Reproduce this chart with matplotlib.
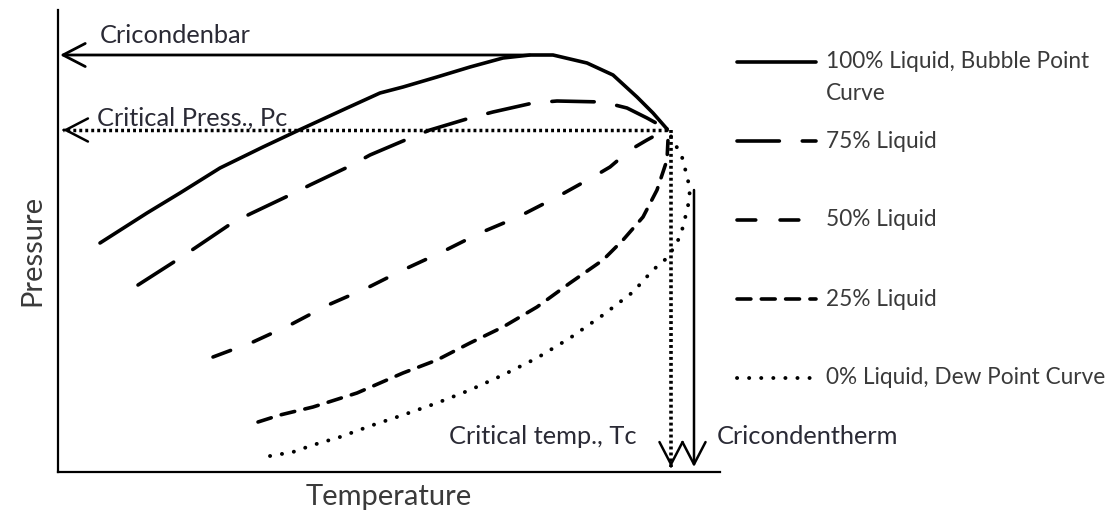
import matplotlib
matplotlib.use("Agg")
import matplotlib.pyplot as plt

plt.rcParams['font.family'] = ['Lato', 'DejaVu Sans']
plt.rcParams['lines.scale_dashes'] = False

W, H = 1111, 515

# ---- data (arbitrary temperature / pressure units) ----
bubble_T = [42, 89, 122, 162, 205, 239, 289, 322, 345, 379, 412, 445, 472, 495, 529, 555, 579, 595, 609]
bubble_P = [229, 259, 279, 304, 325, 341, 364, 379, 385, 395, 405, 414, 417, 417, 409, 397, 375, 359, 343]

liq75_T = [80, 119, 137, 174, 192, 232, 252, 292, 312, 352, 372, 412, 435, 475, 499, 545, 569, 589, 609]
liq75_P = [187, 212, 224, 249, 258, 277, 287, 306, 317, 334, 342, 354, 360, 369, 371, 370, 364, 354, 343]

liq50_T = [155, 195, 232, 270, 309, 345, 384, 422, 460, 499, 535, 552, 572, 589, 609]
liq50_P = [115, 130, 147, 167, 184, 202, 220, 239, 255, 275, 295, 305, 322, 332, 343]

liq25_T = [200, 222, 255, 299, 345, 379, 412, 445, 479, 512, 545, 565, 585, 599, 609, 610, 609]
liq25_P = [50, 57, 65, 79, 99, 112, 129, 145, 165, 189, 212, 232, 255, 282, 312, 332, 343]

dew_T = [212, 235, 255, 282, 315, 345, 379, 412, 445, 479, 512, 545, 575, 595, 609, 619, 625, 632, 630, 624, 615, 609]
dew_P = [16, 20, 27, 35, 47, 57, 69, 82, 97, 114, 134, 157, 180, 202, 214, 229, 245, 275, 292, 315, 332, 343]

labels = ["100% Liquid, Bubble Point\nCurve", "75% Liquid", "50% Liquid",
          "25% Liquid", "0% Liquid, Dew Point Curve"]

# annotation reference values
Tc_line = 613          # critical temperature marker
T_therm = 636          # cricondentherm
P_therm_top = 282
P_bar = 417            # cricondenbar
P_c = 342              # critical pressure
arrow_end = 4

# ---- styles ----
styles = [
    dict(lw=2.6, dashes=None),
    dict(lw=2.6, dashes=(30.5, 16.5)),
    dict(lw=2.6, dashes=(13.5, 17.5)),
    dict(lw=2.6, dashes=(10, 7.5)),
    dict(lw=2.8, dashes=(0.1, 8.6)),
]
series = [(bubble_T, bubble_P), (liq75_T, liq75_P), (liq50_T, liq50_P),
          (liq25_T, liq25_P), (dew_T, dew_P)]

fig = plt.figure(figsize=(W / 100, H / 100), dpi=100)
ax = fig.add_axes([58 / W, 43 / H, 662 / W, 462 / H])
ax.set_xlim(0, 662)
ax.set_ylim(0, 462)
for s in ['top', 'right']:
    ax.spines[s].set_visible(False)
for s in ['left', 'bottom']:
    ax.spines[s].set_linewidth(1.6)
    ax.spines[s].set_color('black')
ax.set_xticks([])
ax.set_yticks([])


def draw_line(axis, x, y, st):
    ln, = axis.plot(x, y, color='black', lw=st['lw'], solid_capstyle='round',
                    dash_capstyle='round', solid_joinstyle='round')
    if st['dashes'] is not None:
        ln.set_dashes(st['dashes'])
    return ln


for (x, y), st in zip(series, styles):
    draw_line(ax, x, y, st)

head = '->,head_length=16,head_width=8.3'
aprops = dict(arrowstyle=head, mutation_scale=1, lw=1.8, color='black',
              shrinkA=0, shrinkB=0)

# Cricondenbar
ax.annotate('', xy=(arrow_end - 2, P_bar),
            xytext=(bubble_T[bubble_P.index(max(bubble_P))], P_bar),
            arrowprops=dict(aprops, lw=2.0), annotation_clip=False)
# Critical pressure (dotted shaft, solid head)
ax.plot([bubble_T[-1], arrow_end + 1], [P_c, P_c], color='black', lw=2.5,
        dashes=(2.1, 2.2), dash_capstyle='butt')
ax.annotate('', xy=(arrow_end + 1, P_c), xytext=(arrow_end + 2, P_c), arrowprops=aprops)
# Critical temperature (dotted shaft)
ax.plot([Tc_line, Tc_line], [P_c, arrow_end + 1], color='black', lw=2.6,
        dashes=(2.1, 2.2), dash_capstyle='butt')
ax.annotate('', xy=(Tc_line, arrow_end + 1), xytext=(Tc_line, arrow_end + 2), arrowprops=aprops)
# Cricondentherm
ax.annotate('', xy=(T_therm, arrow_end + 1), xytext=(T_therm, P_therm_top),
            arrowprops=dict(aprops, lw=1.8), annotation_clip=False)

tcol = '#2a2a35'
fa = 18.3
ax.text(42, 429, 'Cricondenbar', fontsize=fa, color=tcol, va='baseline', ha='left')
ax.text(39, 346, 'Critical Press., Pc', fontsize=fa, color=tcol, va='baseline', ha='left')
ax.text(579, 28, 'Critical temp., Tc', fontsize=fa, color=tcol, va='baseline', ha='right')
ax.text(659, 28, 'Cricondentherm', fontsize=fa, color=tcol, va='baseline', ha='left')

fl = 21
fig.text(389 / W, 1 - 505 / H, 'Temperature', fontsize=fl, color='#3a3a3a',
         ha='center', va='baseline')
fig.text(40 / W, 1 - 250 / H, 'Pressure', fontsize=fl, color='#3a3a3a',
         ha='center', va='baseline', rotation=90, rotation_mode='anchor')

# ---- legend (drawn manually so the handle aligns with the first text line) ----
lax = fig.add_axes([0, 0, 1, 1], facecolor='none')
lax.set_xlim(0, W)
lax.set_ylim(H, 0)
lax.axis('off')
fg = 16.3
leg_y0, leg_dy, line_gap = 62, 79, 32
for i, (lab, st) in enumerate(zip(labels, styles)):
    yy = leg_y0 + leg_dy * i
    draw_line(lax, [737, 816], [yy, yy], st)
    for j, part in enumerate(lab.split('\n')):
        lax.text(826, yy + 6.5 + j * line_gap, part, fontsize=fg, color='#3a3a3a',
                 va='baseline', ha='left')

fig.savefig('out.png', dpi=100)
